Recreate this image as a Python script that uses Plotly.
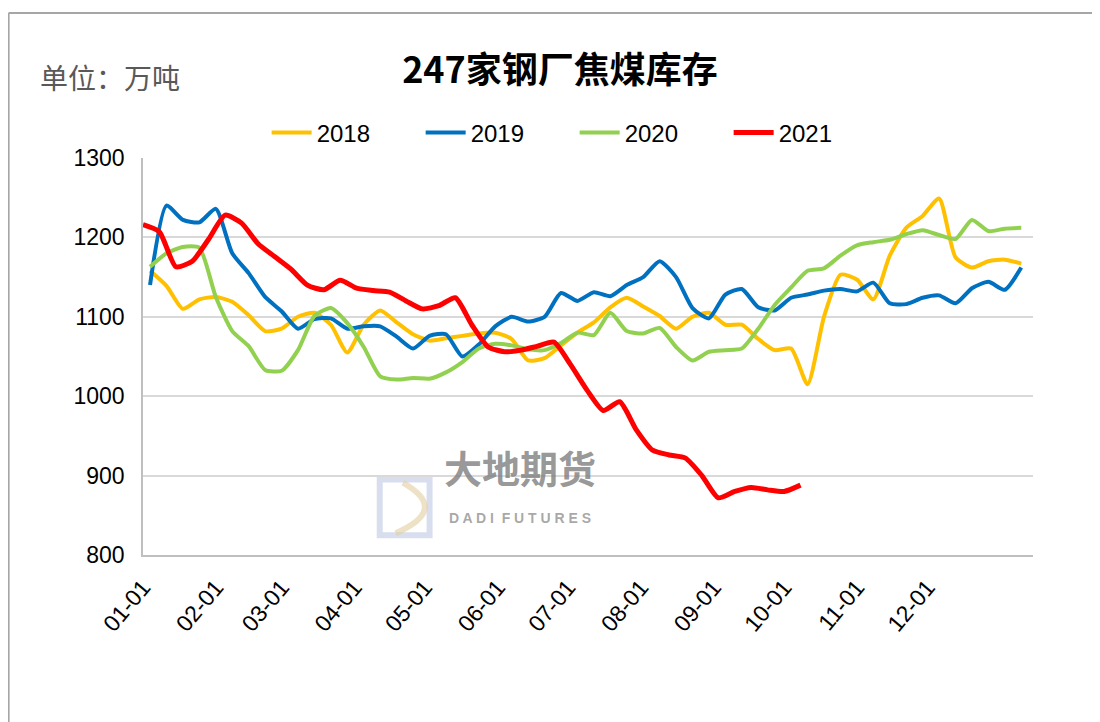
import pandas as pd
import plotly.graph_objects as go

# 247家钢厂焦煤库存 (万吨), weekly
month_ticks = ['01-01', '02-01', '03-01', '04-01', '05-01', '06-01',
               '07-01', '08-01', '09-01', '10-01', '11-01', '12-01']

v2018 = [1158, 1139, 1110, 1122, 1125, 1119, 1102, 1082, 1085, 1100,
         1105, 1090, 1055, 1090, 1108, 1093, 1078, 1070, 1073, 1076,
         1079, 1080, 1072, 1045, 1048, 1064, 1080, 1093, 1112, 1124,
         1113, 1101, 1085, 1100, 1105, 1090, 1090, 1072, 1058, 1060,
         1015, 1100, 1153, 1147, 1122, 1177, 1212, 1227, 1249, 1175,
         1162, 1170, 1172, 1167]

v2019 = [1140, 1240, 1222, 1219, 1236, 1180, 1155, 1125, 1107, 1085,
         1097, 1098, 1085, 1088, 1088, 1075, 1060, 1076, 1078, 1050,
         1065, 1088, 1100, 1094, 1100, 1130, 1120, 1131, 1126, 1140,
         1150, 1170, 1150, 1111, 1098, 1128, 1135, 1112, 1108, 1124,
         1128, 1133, 1135, 1132, 1143, 1117, 1116, 1124, 1127, 1117,
         1136, 1144, 1134, 1162]

v2020 = [1163, 1180, 1188, 1187, 1125, 1082, 1063, 1033, 1032, 1058,
         1101, 1111, 1092, 1062, 1025, 1021, 1023, 1022, 1030, 1043,
         1060, 1066, 1064, 1059, 1058, 1067, 1080, 1077, 1105, 1082,
         1079, 1086, 1062, 1045, 1056, 1058, 1060, 1085, 1115, 1137,
         1158, 1161, 1177, 1190, 1194, 1197, 1204, 1209, 1203, 1198,
         1222, 1208, 1211, 1212]

v2021 = [1216, 1207, 1163, 1170, 1198, 1228, 1218, 1192, 1176, 1160,
         1140, 1134, 1146, 1136, 1133, 1131, 1120, 1110, 1114, 1124,
         1090, 1062, 1056, 1058, 1063, 1068, 1040, 1008, 982, 993,
         958, 932, 926, 922, 900, 872, 880, 885, 882, 880, 888]

series = [
    ('2018', v2018, '2021-01-04', '#FFC000', 4),
    ('2019', v2019, '2021-01-04', '#0070C0', 4),
    ('2020', v2020, '2021-01-04', '#92D050', 4),
    ('2021', v2021, '2021-01-01', '#FF0000', 5),
]

fig = go.Figure()
for name, vals, start, color, width in series:
    dates = pd.date_range(start, periods=len(vals), freq='7D')
    fig.add_trace(go.Scatter(x=dates, y=vals, name=name, mode='lines',
                             line=dict(color=color, width=width, shape='spline', smoothing=0.6)))

tick_font = dict(family='Liberation Sans, Arial', size=23, color='#000000')

# page body adds 8px margin, so the figure is a bit smaller than the window
fig.update_layout(
    width=1092, height=714,
    margin=dict(l=135, r=67, t=150, b=167),
    paper_bgcolor='white', plot_bgcolor='white',
    title=dict(text='<b>247家钢厂焦煤库存</b>', x=0.5055, xref='container', xanchor='center',
               y=0.913, yref='container', yanchor='middle',
               font=dict(family='Noto Sans CJK SC', size=36, color='#000000')),
    legend=dict(orientation='h', x=0.485, xanchor='center', y=1.063, yanchor='middle',
                font=dict(family='Liberation Sans, Arial', size=24, color='#000000'),
                entrywidth=99, itemwidth=40, bgcolor='rgba(0,0,0,0)'),
    xaxis=dict(type='date', range=['2021-01-01', '2022-01-15'],
               tickvals=['2021-' + t for t in month_ticks], ticktext=month_ticks,
               tickangle=-50, tickfont=tick_font, showgrid=False,
               showline=True, linecolor='#BFBFBF', linewidth=1.5, ticks='',
               ticklabelstandoff=8),
    yaxis=dict(range=[800, 1300], dtick=100, tickfont=tick_font,
               showgrid=True, gridcolor='#D9D9D9', gridwidth=1.5,
               showline=True, linecolor='#BFBFBF', linewidth=1.5, ticks='',
               zeroline=False, ticklabelstandoff=12),
)

# unit label
fig.add_annotation(text='单位：万吨', xref='paper', yref='paper', x=-0.118, y=1.204,
                   xanchor='left', yanchor='middle', showarrow=False,
                   font=dict(family='Noto Sans CJK SC', size=28, color='#595959'))

# watermark logo + text
fig.add_shape(type='rect', xref='paper', yref='paper', x0=0.266, x1=0.322, y0=0.05, y1=0.19,
              line=dict(color='rgba(185,195,225,0.55)', width=6), fillcolor='rgba(0,0,0,0)', layer='below')
fig.add_shape(type='path', xref='paper', yref='paper',
              path='M 0.292 0.182 Q 0.345 0.115 0.284 0.055',
              line=dict(color='rgba(225,205,160,0.6)', width=6), layer='below')
fig.add_annotation(text='<b>大地期货</b>', xref='paper', yref='paper', x=0.424, y=0.148,
                   showarrow=False, font=dict(family='Noto Sans CJK SC', size=38, color='rgba(125,125,125,0.8)'))
fig.add_annotation(text='<b>D A D I  F U T U R E S</b>', xref='paper', yref='paper', x=0.424, y=0.068,
                   showarrow=False, font=dict(family='Liberation Sans, Arial', size=14, color='rgba(140,140,140,0.75)'))

# outer frame (top and left edges)
fig.add_shape(type='line', xref='paper', yref='paper', x0=-0.151, x1=1.09, y0=1.365, y1=1.365,
              line=dict(color='#A6A6A6', width=2))
fig.add_shape(type='line', xref='paper', yref='paper', x0=-0.151, x1=-0.151, y0=1.365, y1=-0.43,
              line=dict(color='#A6A6A6', width=2))

fig.write_html('out.html')
